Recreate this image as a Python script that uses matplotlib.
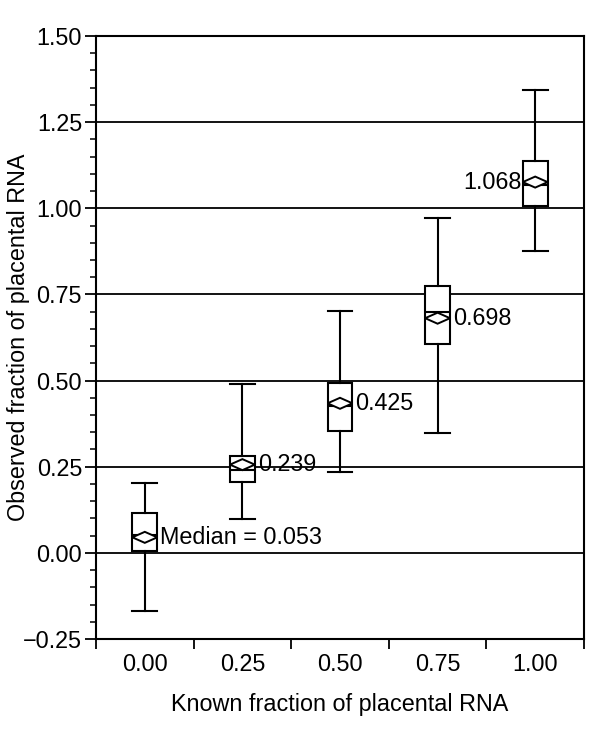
import matplotlib
matplotlib.use("Agg")
import matplotlib.pyplot as plt
from matplotlib.ticker import MultipleLocator, FuncFormatter, FixedLocator, NullFormatter, FixedFormatter

plt.rcParams['font.family'] = ['Liberation Sans', 'DejaVu Sans']

categories = ["0.00", "0.25", "0.50", "0.75", "1.00"]
whislo = [-0.170, 0.099, 0.235, 0.347, 0.876]
q1 = [0.006, 0.205, 0.354, 0.606, 1.008]
med = [0.053, 0.239, 0.425, 0.698, 1.068]
q3 = [0.115, 0.281, 0.492, 0.775, 1.136]
whishi = [0.204, 0.490, 0.701, 0.972, 1.344]
means = [0.045, 0.256, 0.434, 0.681, 1.076]
labels = ["Median = 0.053", "0.239", "0.425", "0.698", "1.068"]
gridvals = [0.0, 0.25, 0.5, 0.75, 1.0, 1.25]

FS = 16.8

fig = plt.figure(figsize=(6.0, 7.36), dpi=100)
ax = fig.add_axes([0.16, 0.1318, 0.8133, 0.8193])

for g in gridvals:
    ax.axhline(g, color='black', lw=1.3, zorder=1)

bw = 0.255
stats = []
for i in range(len(categories)):
    stats.append(dict(med=med[i], q1=q1[i], q3=q3[i], whislo=whislo[i],
                      whishi=whishi[i], mean=means[i], fliers=[], label=categories[i]))
pos = list(range(len(categories)))
ax.bxp(stats, positions=pos, widths=bw, capwidths=bw, showfliers=False,
       patch_artist=True,
       boxprops=dict(facecolor='white', edgecolor='black', lw=1.5),
       medianprops=dict(color='black', lw=1.5),
       whiskerprops=dict(color='black', lw=1.5),
       capprops=dict(color='black', lw=1.5), zorder=3)

dh = 0.016
for i, m in enumerate(means):
    xs = [i - bw / 2, i, i + bw / 2, i, i - bw / 2]
    ys = [m, m + dh, m, m - dh, m]
    ax.fill(xs, ys, facecolor='white', edgecolor='black', lw=1.4, zorder=4)

gap = 0.03
for i, (m, lab) in enumerate(zip(means, labels)):
    if i == len(categories) - 1:
        ax.text(i - bw / 2 - 0.012, m, lab, ha='right', va='center', fontsize=FS, zorder=5)
    else:
        ax.text(i + bw / 2 + gap, m, lab, ha='left', va='center', fontsize=FS, zorder=5)

ax.set_xlim(-0.5, 4.5)
ax.set_ylim(-0.25, 1.5)

ax.yaxis.set_major_locator(MultipleLocator(0.25))
ax.yaxis.set_minor_locator(MultipleLocator(0.05))
ax.yaxis.set_major_formatter(FuncFormatter(lambda v, p: f"{v:.2f}".replace('-', '\u2212')))
ax.tick_params(axis='y', which='major', direction='out', length=8, width=1.3, labelsize=FS, pad=2)
ax.tick_params(axis='y', which='minor', direction='out', length=4, width=1.1)

ax.xaxis.set_major_locator(FixedLocator([-0.5 + k for k in range(6)]))
ax.xaxis.set_major_formatter(NullFormatter())
ax.xaxis.set_minor_locator(FixedLocator(pos))
ax.xaxis.set_minor_formatter(FixedFormatter(categories))
ax.tick_params(axis='x', which='major', direction='out', length=7, width=1.3)
ax.tick_params(axis='x', which='minor', length=0, labelsize=FS, pad=10)

for s in ax.spines.values():
    s.set_linewidth(1.5)

ax.set_xlabel("Known fraction of placental RNA", fontsize=FS, labelpad=12)
ax.set_ylabel("Observed fraction of placental RNA", fontsize=FS)
ax.yaxis.set_label_coords(-0.135, 0.5)

fig.savefig("out.png", dpi=100)
